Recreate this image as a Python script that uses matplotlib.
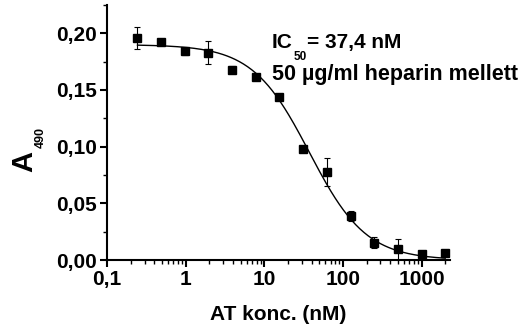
import numpy as np
import matplotlib
matplotlib.use("Agg")
import matplotlib.pyplot as plt
from matplotlib.ticker import FixedLocator, LogLocator, NullFormatter, FuncFormatter

plt.rcParams['font.family'] = ['Liberation Sans', 'DejaVu Sans']
plt.rcParams['font.weight'] = 'bold'

# Data
conc_nM = [0.244, 0.488, 0.977, 1.95, 3.9, 7.8, 15.6, 31.25, 62.5, 125, 250, 500, 1000, 2000]
a490 = [0.196, 0.1925, 0.184, 0.183, 0.168, 0.1614, 0.1437, 0.0976, 0.0776, 0.0388,
        0.0153, 0.0094, 0.0050, 0.0059]
a490_err = [0.0098, 0.0012, 0.003, 0.0105, 0.003, 0.002, 0.0015, 0.002, 0.012, 0.0045,
            0.005, 0.009, 0.002, 0.0015]

# Fit parameters (4-parameter logistic)
fit_top = 0.190
fit_bottom = 0.0
fit_ic50 = 37.4
fit_hill = 1.2

x_ticks = [0.1, 1, 10, 100, 1000]
x_ticklabels = ['0,1', '1', '10', '100', '1000']
y_ticks = [0.00, 0.05, 0.10, 0.15, 0.20]

W, H = 529, 331
fig = plt.figure(figsize=(W / 100, H / 100), dpi=100)
ax = fig.add_axes([0.2023, 0.2145, 0.6484, 0.7705])

xf = np.logspace(np.log10(conc_nM[0]), np.log10(conc_nM[-1]), 300)
yf = fit_bottom + (fit_top - fit_bottom) / (1 + (xf / fit_ic50) ** fit_hill)
ax.plot(xf, yf, color='black', lw=1.0, zorder=2)

ax.errorbar(conc_nM, a490, yerr=a490_err, fmt='s', color='black', ms=5.5,
            ecolor='black', elinewidth=0.8, capsize=2.5, capthick=0.8, zorder=3)

ax.set_xscale('log')
ax.set_xlim(0.1, 2300)
ax.set_ylim(0, 0.225)

ax.xaxis.set_major_locator(FixedLocator(x_ticks))
ax.set_xticklabels(x_ticklabels)
ax.xaxis.set_minor_locator(LogLocator(base=10, subs=np.arange(2, 10)))
ax.xaxis.set_minor_formatter(NullFormatter())

ax.yaxis.set_major_locator(FixedLocator(y_ticks))
ax.yaxis.set_major_formatter(FuncFormatter(lambda v, p: f"{v:.2f}".replace('.', ',')))
ax.yaxis.set_minor_locator(FixedLocator([0.025, 0.075, 0.125, 0.175, 0.225]))

for s in ['top', 'right']:
    ax.spines[s].set_visible(False)
for s in ['left', 'bottom']:
    ax.spines[s].set_linewidth(1.5)

ax.tick_params(which='major', direction='out', length=5, width=1.5, labelsize=15, pad=2)
ax.tick_params(which='minor', direction='out', length=3, width=1.0)
for lbl in ax.get_xticklabels() + ax.get_yticklabels():
    lbl.set_fontweight('bold')

ax.set_xlabel('AT konc. (nM)', fontsize=15, fontweight='bold', labelpad=12)

def px(x, y):
    return x / W, 1 - y / H

# y label: "A" with subscript "490" (rotated)
fig.text(*px(24, 161), 'A', fontsize=21, fontweight='bold', rotation=90,
         ha='center', va='center')
fig.text(*px(41, 137), '490', fontsize=9, fontweight='bold', rotation=90,
         ha='center', va='center')

# Annotation: IC50 with subscript
fig.canvas.draw()
r = fig.canvas.get_renderer()
t1 = fig.text(*px(272, 48), 'IC', fontsize=15, fontweight='bold', va='baseline')
e1 = t1.get_window_extent(r)
t2 = fig.text((e1.x1 + 1) / W, 1 - 60 / H, '50', fontsize=8.5, fontweight='bold', va='baseline')
e2 = t2.get_window_extent(r)
fig.text(e2.x1 / W, 1 - 48 / H, '= 37,4 nM', fontsize=15, fontweight='bold', va='baseline')
fig.text(*px(272, 80), '50 µg/ml heparin mellett', fontsize=15.5, fontweight='bold',
         va='baseline')

fig.savefig('out.png', dpi=100)
